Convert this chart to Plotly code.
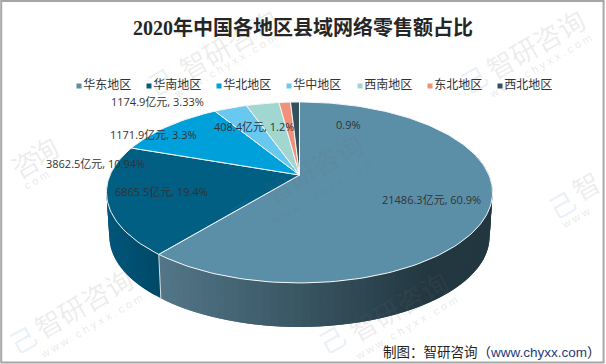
import math
import plotly.graph_objects as go

regions = ["华东地区", "华南地区", "华北地区", "华中地区", "西南地区", "东北地区", "西北地区"]
values = [21486.3, 6865.5, 3862.5, 1174.9, 1171.9, 408.4, 318.0]
percents = ["60.9%", "19.4%", "10.94%", "3.33%", "3.3%", "1.2%", "0.9%"]
show_value = [True, True, True, True, True, True, False]
top_colors = ["#5b8fa8", "#005f83", "#00a1da", "#68c8f0", "#a1d6d1", "#ef917b", "#34505e"]
label_xy = [(431, 199), (161, 191), (95, 163), (157, 101), (153, 134), (254, 126), (348, 124)]

wm_names = [("智研咨询", 228, 43), ("智研咨询", 535, 43), ("智研咨询", 313, 167), ("智研咨询", 398, 305),
            ("智研咨询", 83, 302), ("询", 43, 150), ("咨", 24, 163), ("智", 585, 185)]
wm_urls = [("w w w . c h y x x . c o m", 225, 66), ("w w w . c h y x x . c o m", 540, 66),
           ("w w w . c h y x x . c o m", 322, 192), ("w w w . c h y x x . c o m", 406, 328),
           ("w w w . c h y x x . c o m", 91, 326), ("c o m", 36, 180), ("w w w", 575, 218)]
wm_logos = [(160, 80), (473, 78), (243, 212), (331, 338), (22, 338), (561, 203)]

CX, CY = 299.5, 175.0
A, B, K = 189.4, 87.1, 0.193
DEPTH, SHRINK = 44.0, 0.985
TEXT = "#333333"


def top_pt(deg):
    t = math.radians(deg)
    u, v = math.sin(t), math.cos(t)
    w = 1 + K * v
    return CX + A * u / w, CY - B * v / w


def low_pt(deg):
    x, y = top_pt(deg)
    return CX + (x - CX) * SHRINK, y + DEPTH


def mix(c1, c2, t):
    return "rgb(%d,%d,%d)" % tuple(round(a + (b - a) * t) for a, b in zip(c1, c2))


def side_color(i, x):
    if i == 0:
        t = max(0.0, min(1.0, (x - 160) / 270))
        return mix((82, 118, 136), (34, 55, 64), t)
    if i == 1:
        t = max(0.0, min(1.0, (x - 107) / 55))
        return mix((0, 86, 122), (0, 72, 102), t)
    return top_colors[i]


fig = go.Figure()
total = sum(values)
start = 0.0
spans = []
for v in values:
    end = start + v / total * 360
    spans.append((start, end))
    start = end

# side wall: each strip overlaps its neighbour so no seams show
for i, (s, e) in enumerate(spans):
    lo, hi = max(s, 75.0), min(e, 285.0)
    if hi <= lo:
        continue
    n = max(1, int((hi - lo) / 2))
    for j in range(n):
        a0 = lo + (hi - lo) * j / n
        a1 = lo + (hi - lo) * (j + 1) / n
        a2 = min(hi, a1 + (hi - lo) / n)
        arc = [a0, a1, a2]
        p = [top_pt(q) for q in arc] + [low_pt(q) for q in reversed(arc)]
        p.append(p[0])
        col = side_color(i, (top_pt(a0)[0] + top_pt(a1)[0]) / 2)
        fig.add_trace(go.Scatter(x=[q[0] for q in p], y=[q[1] for q in p], mode="lines",
                                 fill="toself", fillcolor=col, line=dict(color=col, width=0),
                                 showlegend=False, hoverinfo="skip"))

# boundary between the two side walls
a = spans[0][1]
fig.add_trace(go.Scatter(x=[top_pt(a)[0], low_pt(a)[0]], y=[top_pt(a)[1], low_pt(a)[1]], mode="lines",
                         line=dict(color="#d5dde1", width=1), showlegend=False, hoverinfo="skip"))

# top face
for i, (s, e) in enumerate(spans):
    n = max(2, int((e - s) / 1.5))
    pts = [(CX, CY)] + [top_pt(s + (e - s) * j / n) for j in range(n + 1)] + [(CX, CY)]
    fig.add_trace(go.Scatter(x=[q[0] for q in pts], y=[q[1] for q in pts], mode="lines",
                             fill="toself", fillcolor=top_colors[i],
                             line=dict(color="#f4f6f7", width=1), showlegend=False, hoverinfo="skip"))

# legend row
for i, (name, col) in enumerate(zip(regions, top_colors)):
    fig.add_trace(go.Scatter(x=[79 + 70 * i + (1 if i >= 4 else 0)], y=[86], mode="markers+text", name=name,
                             text=[name], textposition="middle right",
                             textfont=dict(size=12, color="#333333", family="Noto Sans CJK SC"),
                             marker=dict(symbol="square", size=5, color=col), showlegend=False, hoverinfo="skip"))

ann = []
for txt, wx, wy in wm_names:
    ann.append(dict(x=wx, y=wy, text=txt, textangle=-30, showarrow=False,
                    font=dict(size=27, color="rgba(110,110,110,0.13)", family="Noto Sans CJK SC")))
for txt, wx, wy in wm_urls:
    ann.append(dict(x=wx, y=wy, text=txt, textangle=-30, showarrow=False,
                    font=dict(size=11, color="rgba(110,110,110,0.17)", family="Liberation Sans")))
for wx, wy in wm_logos:
    ann.append(dict(x=wx, y=wy, text="己", textangle=-30, showarrow=False,
                    font=dict(size=26, color="rgba(90,140,200,0.14)", family="Noto Sans CJK SC")))

for (lx, ly), v, pct, sv in zip(label_xy, values, percents, show_value):
    txt = f"{v:g}亿元, {pct}" if sv else pct
    ann.append(dict(x=lx, y=ly, text=txt, showarrow=False,
                    font=dict(size=11, color=TEXT, family="Open Sans, Noto Sans CJK SC")))

ann.append(dict(x=303, y=27, text="<b>2020年中国各地区县域网络零售额占比</b>", showarrow=False,
                font=dict(size=20, color="#262626", family="Liberation Serif, Noto Sans CJK SC")))
ann.append(dict(x=603, y=352, xanchor="right", text="制图：智研咨询（<span style='color:#1f3a7a'>www.chyxx.com</span>）",
                showarrow=False, font=dict(size=13.5, color="#222222", family="Liberation Sans, Noto Sans CJK SC")))

fig.update_layout(
    width=606, height=364, margin=dict(l=0, r=0, t=0, b=0),
    paper_bgcolor="white", plot_bgcolor="white", showlegend=False,
    xaxis=dict(range=[0, 606], visible=False, fixedrange=True),
    yaxis=dict(range=[364, 0], visible=False, fixedrange=True),
    annotations=ann,
    shapes=[dict(type="rect", xref="paper", yref="paper", x0=0.002, x1=0.996, y0=0.004, y1=0.997,
                 line=dict(color="#a6a6a6", width=2))],
)
fig.write_html("out.html", config={"displayModeBar": False},
               post_script="document.body.style.margin='0';document.body.style.overflow='hidden';")
